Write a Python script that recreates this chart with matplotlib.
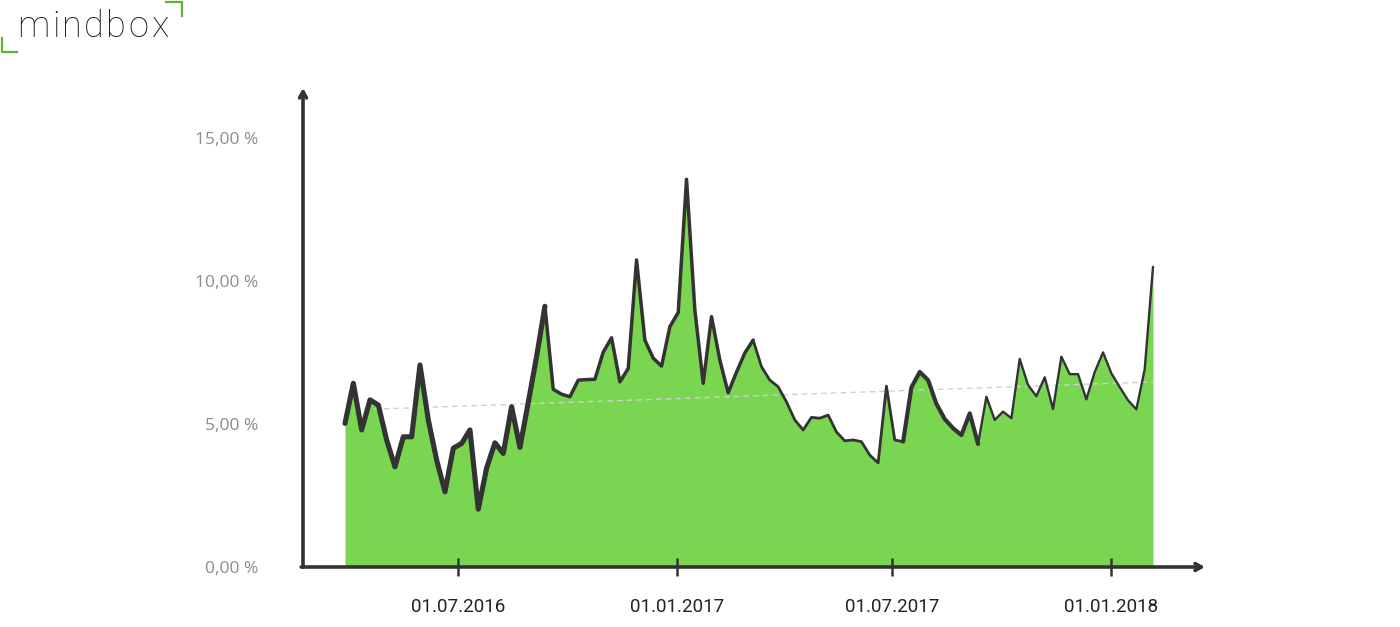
import matplotlib
matplotlib.use('Agg')
import matplotlib.pyplot as plt
import matplotlib.dates as mdates
from matplotlib.lines import Line2D
import pandas as pd

# ---------------- data ----------------
start_date = '2016-03-28'   # weekly series
values = [
    5.02, 6.42, 4.79, 5.84, 5.66, 4.44, 3.50, 4.55, 4.55, 7.06,
    5.14, 3.74, 2.63, 4.15, 4.32, 4.79, 2.02, 3.46, 4.34, 3.97,
    5.60, 4.18, 5.75, 7.35, 9.11, 6.21, 6.04, 5.95, 6.53, 6.55,
    6.56, 7.51, 8.01, 6.47, 6.94, 10.73, 7.93, 7.30, 7.02, 8.40,
    8.89, 13.55, 8.98, 6.42, 8.75, 7.23, 6.09, 6.81, 7.48, 7.93,
    7.00, 6.53, 6.30, 5.77, 5.14, 4.79, 5.23, 5.20, 5.31, 4.72,
    4.41, 4.44, 4.38, 3.91, 3.64, 6.32, 4.44, 4.38, 6.28, 6.82,
    6.53, 5.70, 5.17, 4.85, 4.61, 5.37, 4.30, 5.95, 5.14, 5.43,
    5.20, 7.27, 6.36, 5.97, 6.63, 5.52, 7.35, 6.74, 6.74, 5.86,
    6.81, 7.50, 6.77, 6.29, 5.83, 5.51, 6.90, 10.49,
]
trend_values = [5.48, 6.47]          # start / end of the dashed trend line
y_ticks = [0, 5, 10, 15]
y_tick_labels = ['0,00 %', '5,00 %', '10,00 %', '15,00 %']
x_tick_dates = ['2016-07-01', '2017-01-01', '2017-07-01', '2018-01-01']
x_tick_labels = ['01.07.2016', '01.01.2017', '01.07.2017', '01.01.2018']
logo_text = 'mindbox'

# (first week, last week, line width) – hand-drawn varying stroke
stroke_segments = [(0, 24, 3.7), (24, 49, 2.5), (49, 67, 2.0),
                   (67, 76, 3.0), (76, 97, 1.7)]

# ---------------- style ----------------
GREEN = '#7ad651'
DARK = '#333333'

dates = pd.date_range(start_date, periods=len(values), freq='7D')

fig = plt.figure(figsize=(14, 6.27), dpi=100)
W, H = 1400, 627
ax = fig.add_axes([303 / W, (H - 567) / H, (1205 - 303) / W, (567 - 88) / H])

d0 = mdates.date2num(pd.Timestamp(start_date))
ax.set_xlim(d0 - 35.3, d0 + 722.7)
ax.set_ylim(0, 16.74)

ax.fill_between(dates, values, 0, color=GREEN, lw=0, zorder=1)
ax.plot([dates[0], dates[-1]], trend_values, color='#d0d0d0', lw=1.0,
        dashes=(4, 3), zorder=2)
for a, b, lw in stroke_segments:
    ax.plot(dates[a:b + 1], values[a:b + 1], color=DARK, lw=lw,
            solid_joinstyle='round', solid_capstyle='round', zorder=3)

for s in ax.spines.values():
    s.set_visible(False)

# axes with arrows
arrow = dict(arrowstyle='->,head_length=0.45,head_width=0.25', lw=2.6,
             color=DARK, shrinkA=0, shrinkB=0)
ax.annotate('', xy=(0, 1), xytext=(0, 0), xycoords='axes fraction',
            arrowprops=arrow, zorder=5)
ax.annotate('', xy=(1, 0), xytext=(-0.002, 0), xycoords='axes fraction',
            arrowprops=arrow, zorder=5)

ax.set_xticks(pd.to_datetime(x_tick_dates))
ax.set_xticklabels(x_tick_labels, family='Roboto')
ax.tick_params(axis='x', direction='inout', length=13, width=1.8,
               color=DARK, pad=16, labelsize=13.5, labelcolor='#222222')
ax.set_yticks(y_ticks)
ax.set_yticklabels(y_tick_labels, family='Open Sans')
ax.tick_params(axis='y', length=0, pad=32, labelsize=12.5,
               labelcolor='#8c8c8c')
for t in ax.get_xticklines():
    t.set_zorder(6)

# logo (letter-spaced)
renderer = fig.canvas.get_renderer()
chars = []
for ch in logo_text:
    t = fig.text(0, 1 - 37 / H, ch, fontsize=26, family='Roboto',
                 weight='light', color='#1a1a1a', va='baseline', ha='left')
    chars.append((t, t.get_window_extent(renderer).width))
total = sum(w for _, w in chars)
track = max(0.0, (151 - total) / (len(chars) - 1))
x = 17.0
for t, w in chars:
    t.set_x(x / W)
    x += w + track

LOGO_GREEN = '#5cb531'
fig.add_artist(Line2D([2 / W, 2 / W, 17 / W],
                      [1 - 38 / H, 1 - 52 / H, 1 - 52 / H],
                      transform=fig.transFigure, color=LOGO_GREEN, lw=1.6))
fig.add_artist(Line2D([166 / W, 182 / W, 182 / W],
                      [1 - 2 / H, 1 - 2 / H, 1 - 16 / H],
                      transform=fig.transFigure, color=LOGO_GREEN, lw=1.6))

fig.savefig('out.png', dpi=100, facecolor='white')
